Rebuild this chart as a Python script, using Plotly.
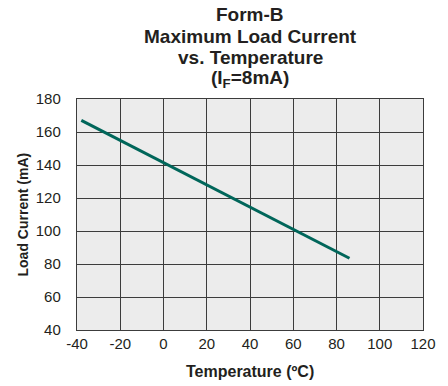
import plotly.graph_objects as go

temperature = [-38, 86]
load_current = [167, 83.5]
x_ticks = [-40, -20, 0, 20, 40, 60, 80, 100, 120]
y_ticks = [40, 60, 80, 100, 120, 140, 160, 180]
title_lines = ["Form-B", "Maximum Load Current", "vs. Temperature", "(I<sub>F</sub>=8mA)"]
x_title = "Temperature (ºC)"
y_title = "Load Current (mA)"

W, H = 448, 386
L, R, T, B = 77, 25, 99, 56
plot_w = W - L - R
plot_h = H - T - B

fig = go.Figure()
fig.add_trace(go.Scatter(x=temperature, y=load_current, mode="lines",
                         line=dict(color="#00665a", width=3), showlegend=False,
                         hoverinfo="skip"))

font_family = "Liberation Sans, Arial, sans-serif"
line_centers = [14, 36, 58, 79]
annotations = []
for txt, yc in zip(title_lines, line_centers):
    annotations.append(dict(
        text="<b>" + txt + "</b>", xref="paper", yref="paper", x=0.5,
        y=1 + (T - yc) / plot_h, xanchor="center", yanchor="middle",
        showarrow=False, font=dict(size=19, family=font_family, color="#231f20")))
annotations.append(dict(
    text="<b>" + y_title + "</b>", xref="paper", yref="paper",
    x=(22 - L) / plot_w, y=0.5, xanchor="center", yanchor="middle", textangle=-90,
    showarrow=False, font=dict(size=14, family=font_family, color="#231f20")))
annotations.append(dict(
    text="<b>" + x_title + "</b>", xref="paper", yref="paper",
    x=0.5, y=-(371 - (H - B)) / plot_h, xanchor="center", yanchor="middle",
    showarrow=False, font=dict(size=16, family=font_family, color="#231f20")))

fig.update_layout(
    width=W, height=H,
    margin=dict(l=L, r=R, t=T, b=B),
    paper_bgcolor="white", plot_bgcolor="#ececec",
    font=dict(family=font_family, color="#231f20", size=15),
    annotations=annotations,
)
fig.update_xaxes(range=[-40, 120], tickvals=x_ticks, ticktext=[str(v) for v in x_ticks],
                 showgrid=True, gridcolor="#3c3c3c", gridwidth=1.4,
                 showline=True, linecolor="#3c3c3c", linewidth=1.4, mirror=True,
                 zeroline=False, ticks="", ticklabelstandoff=0)
fig.update_yaxes(range=[40, 180], tickvals=y_ticks, ticktext=[str(v) for v in y_ticks],
                 showgrid=True, gridcolor="#3c3c3c", gridwidth=1.4,
                 showline=True, linecolor="#3c3c3c", linewidth=1.4, mirror=True,
                 zeroline=False, ticks="", ticklabelstandoff=12)

fig.write_html("out.html", config={"displayModeBar": False},
               post_script="document.body.style.margin='0';document.body.style.overflow='hidden';")
